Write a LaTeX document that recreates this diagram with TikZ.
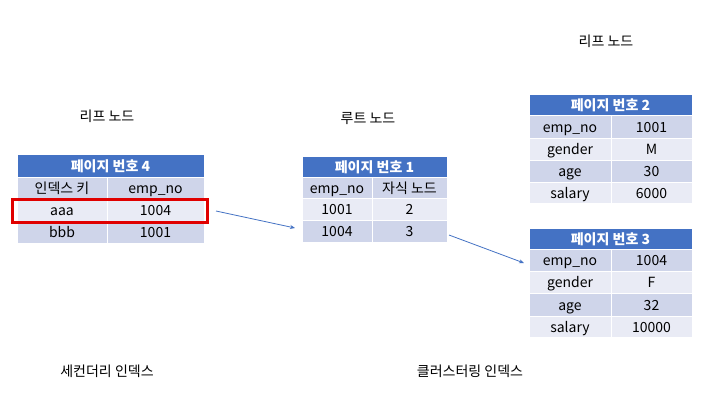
\documentclass[tikz,border=0pt]{standalone}
\usepackage{fontspec}
\setmainfont{Noto Sans CJK KR}
\usetikzlibrary{arrows.meta}
\definecolor{hdr}{HTML}{4472C4}
\definecolor{rowdark}{HTML}{CFD5EA}
\definecolor{rowlight}{HTML}{E9EBF5}
\definecolor{boxred}{HTML}{E00000}
\tikzset{
  cell/.style={draw=white, line width=1pt, inner sep=0pt, text height=11pt, text depth=0pt, font=\fontsize{14}{16}\selectfont, text=black},
  headcell/.style={cell, fill=hdr, text=white, font=\fontsize{14}{16}\selectfont\bfseries},
  lbl/.style={inner sep=0pt, font=\fontsize{14}{16}\selectfont},
  link/.style={draw=hdr, line width=0.8pt, -{Stealth[length=5pt,width=4pt]}},
  selbox/.style={draw=boxred, line width=3pt, inner sep=0pt}
}
\newcommand{\tcell}[7]{%
  \node[cell, fill=#6, minimum width={(#4-#2)*1pt}, minimum height={(#5-#3)*1pt}] (#1) at ({(#2+#4)/2},{(#3+#5)/2}) {#7};}
\newcommand{\thead}[6]{%
  \node[headcell, minimum width={(#4-#2)*1pt}, minimum height={(#5-#3)*1pt}] (#1) at ({(#2+#4)/2},{(#3+#5)/2}) {#6};}
\begin{document}
\begin{tikzpicture}[x=1pt,y=-1pt]
\useasboundingbox[fill=white] (0,0) rectangle (720,405);
% Table page 4 (secondary leaf)
\thead{h4}{17}{154}{204}{177}{페이지 번호 4}
\tcell{a11}{17}{177}{107}{199}{rowdark}{인덱스 키}
\tcell{a12}{107}{177}{204}{199}{rowdark}{emp\_no}
\tcell{a21}{17}{199}{107}{221}{rowlight}{aaa}
\tcell{a22}{107}{199}{204}{221}{rowlight}{1004}
\tcell{a31}{17}{221}{107}{243}{rowdark}{bbb}
\tcell{a32}{107}{221}{204}{243}{rowdark}{1001}
\node[selbox, minimum width=195pt, minimum height=23pt] (sel) at (109.5,210.5) {};
% Table page 1 (root)
\thead{h1}{302}{156}{447}{177}{페이지 번호 1}
\tcell{b11}{302}{177}{372}{198}{rowdark}{emp\_no}
\tcell{b12}{372}{177}{447}{198}{rowdark}{자식 노드}
\tcell{b21}{302}{198}{372}{220}{rowlight}{1001}
\tcell{b22}{372}{198}{447}{220}{rowlight}{2}
\tcell{b31}{302}{220}{372}{242}{rowdark}{1004}
\tcell{b32}{372}{220}{447}{242}{rowdark}{3}
% Table page 2
\thead{h2}{529}{94}{692}{115}{페이지 번호 2}
\tcell{c11}{529}{115}{611}{138}{rowdark}{emp\_no}
\tcell{c12}{611}{115}{692}{138}{rowdark}{1001}
\tcell{c21}{529}{138}{611}{160}{rowlight}{gender}
\tcell{c22}{611}{138}{692}{160}{rowlight}{M}
\tcell{c31}{529}{160}{611}{182}{rowdark}{age}
\tcell{c32}{611}{160}{692}{182}{rowdark}{30}
\tcell{c41}{529}{182}{611}{203}{rowlight}{salary}
\tcell{c42}{611}{182}{692}{203}{rowlight}{6000}
% Table page 3
\thead{h3}{529}{228}{692}{249}{페이지 번호 3}
\tcell{d11}{529}{249}{611}{271}{rowdark}{emp\_no}
\tcell{d12}{611}{249}{692}{271}{rowdark}{1004}
\tcell{d21}{529}{271}{611}{293}{rowlight}{gender}
\tcell{d22}{611}{271}{692}{293}{rowlight}{F}
\tcell{d31}{529}{293}{611}{316}{rowdark}{age}
\tcell{d32}{611}{293}{692}{316}{rowdark}{32}
\tcell{d41}{529}{316}{611}{337}{rowlight}{salary}
\tcell{d42}{611}{316}{692}{337}{rowlight}{10000}
% Labels
\node[lbl] (l1) at (107,116) {리프 노드};
\node[lbl] (l2) at (368,119) {루트 노드};
\node[lbl] (l3) at (606,41) {리프 노드};
\node[lbl] (l4) at (107,371) {세컨더리 인덱스};
\node[lbl] (l5) at (470,371) {클러스터링 인덱스};
% Connectors
\coordinate (p1s) at (216,211);
\coordinate (p1e) at (295,228);
\coordinate (p2s) at (449,235);
\coordinate (p2e) at (524,263);
\draw[link] (p1s) -- (p1e);
\draw[link] (p2s) -- (p2e);
\end{tikzpicture}
\end{document}
